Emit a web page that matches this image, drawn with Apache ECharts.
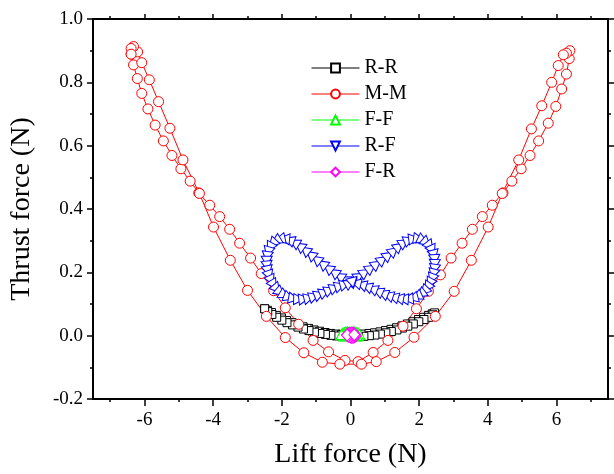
<!DOCTYPE html>
<html>
<head>
<meta charset="utf-8">
<script src="https://cdn.jsdelivr.net/npm/echarts@6/dist/echarts.min.js"></script>
<style>html,body{margin:0;padding:0;background:#fff}#c{width:614px;height:474px}</style>
</head>
<body>
<div id="c"></div>
<script>
const seriesNames = ['R-R', 'M-M', 'F-F', 'R-F', 'F-R'];
const seriesColors = ['#000000', '#ff0000', '#00ff00', '#0000ff', '#ff00ff'];
const xMajorTicks = [-6, -4, -2, 0, 2, 4, 6];
const xMinorTicks = [-7, -5, -3, -1, 1, 3, 5, 7];
const yTicks = [-0.2, 0.0, 0.2, 0.4, 0.6, 0.8, 1.0];

// R-R (lift, thrust)
const rrData = [
  [-2.50,0.085],[-2.42,0.080],[-2.30,0.073],[-2.16,0.064],[-2.01,0.056],[-1.86,0.048],[-1.70,0.041],
  [-1.54,0.034],[-1.38,0.028],[-1.22,0.023],[-1.06,0.018],[-0.90,0.014],[-0.74,0.010],[-0.58,0.007],
  [-0.42,0.005],[-0.26,0.004],[-0.10,0.003],[0.06,0.003],[0.22,0.004],[0.38,0.005],[0.54,0.007],
  [0.70,0.009],[0.86,0.012],[1.02,0.016],[1.18,0.020],[1.34,0.025],[1.50,0.031],[1.66,0.037],
  [1.82,0.044],[1.98,0.051],[2.13,0.058],[2.27,0.064],[2.38,0.069],[2.45,0.072],
  [2.40,0.066],[2.28,0.058],[2.14,0.051],[1.99,0.044],[1.83,0.037],[1.67,0.030],[1.51,0.024],
  [1.35,0.018],[1.19,0.013],[1.03,0.009],[0.87,0.005],[0.71,0.002],[0.55,0.000],[0.39,-0.002],
  [0.23,-0.003],[0.07,-0.003],[-0.09,-0.003],[-0.25,-0.002],[-0.41,-0.001],[-0.57,0.001],[-0.73,0.004],
  [-0.89,0.007],[-1.05,0.011],[-1.21,0.016],[-1.37,0.021],[-1.53,0.027],[-1.69,0.034],[-1.85,0.041],
  [-2.00,0.049],[-2.15,0.058],[-2.29,0.067],[-2.41,0.076],[-2.50,0.085]
];
// M-M
const mmData = [
  [-6.39,0.889],[-6.32,0.855],[-6.21,0.812],[-6.08,0.765],[-5.90,0.716],[-5.69,0.665],[-5.45,0.615],
  [-5.20,0.569],[-4.94,0.527],[-4.67,0.488],[-4.42,0.451],[-4.10,0.412],[-3.81,0.376],[-3.52,0.336],
  [-3.23,0.292],[-2.91,0.245],[-2.60,0.196],[-2.24,0.142],[-1.90,0.088],[-1.51,0.036],[-1.09,-0.015],
  [-0.64,-0.051],[-0.16,-0.078],
  [0.22,-0.082],[0.66,-0.053],[1.09,-0.015],[1.53,0.030],[1.92,0.085],[2.27,0.140],[2.62,0.192],
  [2.93,0.245],[3.25,0.292],[3.55,0.336],[3.84,0.376],[4.13,0.412],[4.44,0.451],[4.70,0.488],
  [4.97,0.527],[5.23,0.569],[5.48,0.615],[5.76,0.671],[5.98,0.724],[6.15,0.779],[6.29,0.826],
  [6.37,0.875],[6.39,0.900],[6.29,0.892],
  [6.20,0.887],[6.05,0.853],[5.86,0.800],[5.57,0.726],[5.27,0.653],[4.90,0.555],[4.42,0.449],
  [4.01,0.343],[3.52,0.238],[3.02,0.140],[2.47,0.061],[1.85,-0.005],[1.29,-0.053],[0.75,-0.082],
  [0.32,-0.090],
  [-0.31,-0.090],[-0.82,-0.084],[-1.36,-0.054],[-1.90,-0.006],[-2.45,0.061],[-3.00,0.143],[-3.50,0.238],
  [-3.99,0.343],[-4.40,0.449],[-4.88,0.555],[-5.26,0.655],[-5.59,0.739],[-5.86,0.808],[-6.08,0.862],
  [-6.20,0.896],[-6.32,0.913],[-6.39,0.907],[-6.39,0.889]
];
// F-F
const ffData = [
  [-0.26,0.004],[-0.22,0.008],[-0.18,0.010],[-0.13,0.012],[-0.09,0.012],[-0.04,0.011],[0.00,0.010],
  [0.04,0.011],[0.09,0.012],[0.13,0.012],[0.18,0.010],[0.22,0.008],[0.26,0.004],[0.22,0.001],
  [0.18,-0.001],[0.13,0.000],[0.09,0.001],[0.04,0.002],[0.00,0.003],[-0.04,0.002],[-0.09,0.001],
  [-0.13,0.000],[-0.18,-0.001],[-0.22,0.001],[-0.26,0.004]
];
// R-F
const rfData = [
  [0.08,0.176],[0.25,0.188],[0.42,0.200],[0.59,0.213],[0.76,0.226],[0.93,0.240],[1.10,0.254],
  [1.26,0.268],[1.41,0.282],[1.56,0.294],[1.70,0.302],[1.84,0.306],[1.98,0.306],[2.10,0.302],
  [2.21,0.294],[2.31,0.283],[2.38,0.270],[2.43,0.255],[2.45,0.240],[2.45,0.225],[2.44,0.210],
  [2.41,0.195],[2.37,0.180],[2.31,0.166],[2.24,0.153],[2.15,0.141],[2.05,0.131],[1.94,0.124],
  [1.82,0.119],[1.68,0.116],[1.54,0.116],[1.40,0.118],[1.25,0.122],[1.10,0.127],[0.95,0.133],
  [0.80,0.140],[0.64,0.148],[0.48,0.155],[0.32,0.161],[0.16,0.166],[0.00,0.170],
  [-0.16,0.178],[-0.32,0.188],[-0.48,0.200],[-0.65,0.213],[-0.82,0.227],[-0.99,0.241],[-1.16,0.256],
  [-1.32,0.270],[-1.48,0.283],[-1.63,0.294],[-1.78,0.302],[-1.92,0.306],[-2.05,0.305],[-2.17,0.300],
  [-2.27,0.291],[-2.35,0.279],[-2.40,0.265],[-2.43,0.250],[-2.44,0.235],[-2.43,0.220],[-2.41,0.205],
  [-2.37,0.190],[-2.31,0.175],[-2.24,0.161],[-2.15,0.148],[-2.05,0.137],[-1.93,0.128],[-1.80,0.121],
  [-1.66,0.117],[-1.51,0.115],[-1.36,0.116],[-1.21,0.119],[-1.06,0.124],[-0.91,0.130],[-0.76,0.137],
  [-0.61,0.144],[-0.46,0.151],[-0.31,0.157],[-0.16,0.162],[-0.02,0.166],[0.08,0.176]
];
// F-R
const frData = [
  [-0.10,0.002],[-0.08,0.004],[-0.05,0.006],[-0.02,0.007],[0.02,0.008],[0.05,0.008],[0.08,0.007],
  [0.11,0.006],[0.13,0.004],[0.15,0.000],[0.13,-0.002],[0.10,-0.004],[0.07,-0.005],[0.03,-0.005],
  [0.00,-0.004],[-0.04,-0.003],[-0.07,-0.001],[-0.10,0.002],[0.11,0.003]
];

const FONT = '"Liberation Serif", "Times New Roman", serif';
const chart = echarts.init(document.getElementById('c'), null, {renderer: 'canvas'});

function baseX(pos, ticks, len, extra) {
  return Object.assign({
    type: 'value', position: pos, min: -7.5, max: 7.5, gridIndex: 0,
    axisLine: {show: true, onZero: false, lineStyle: {color: '#000', width: 2}},
    axisTick: {show: true, inside: false, length: len, customValues: ticks, lineStyle: {color: '#000', width: 1.5}},
    axisLabel: {show: false},
    splitLine: {show: false}
  }, extra || {});
}
function baseY(pos, extra) {
  return Object.assign({
    type: 'value', position: pos, min: -0.2, max: 1.0, interval: 0.2,
    axisLine: {show: true, onZero: false, lineStyle: {color: '#000', width: 2}},
    axisTick: {show: true, inside: false, length: 6, lineStyle: {color: '#000', width: 1.5}},
    minorTick: {show: true, splitNumber: 2, length: 3, lineStyle: {color: '#000', width: 1.5}},
    axisLabel: {show: false},
    splitLine: {show: false}, minorSplitLine: {show: false}
  }, extra || {});
}

const triPath = 'path://M0,0L10,0L5,9Z';

const option = {
  animation: false,
  backgroundColor: '#fff',
  grid: {left: 93, right: 6, top: 19, bottom: 72, containLabel: false},
  legend: {
    orient: 'vertical', left: 306, top: 53, itemWidth: 48, itemHeight: 11, itemGap: 6,
    lineStyle: {width: 1},
    textStyle: {fontFamily: FONT, fontSize: 20, color: '#000', lineHeight: 20},
    data: seriesNames
  },
  xAxis: [
    baseX('bottom', xMajorTicks, 7, {
      axisLabel: {show: true, customValues: xMajorTicks, fontFamily: FONT, fontSize: 19, color: '#000', margin: 12,
        formatter: v => String(v)},
      name: 'Lift force (N)', nameLocation: 'middle', nameGap: 42,
      nameTextStyle: {fontFamily: FONT, fontSize: 28, color: '#000'}
    }),
    baseX('bottom', xMinorTicks, 3),
    baseX('top', xMajorTicks, 5),
    baseX('top', xMinorTicks, 3)
  ],
  yAxis: [
    baseY('left', {
      axisLabel: {show: true, fontFamily: FONT, fontSize: 19, color: '#000', margin: 10,
        formatter: v => v.toFixed(1)},
      name: 'Thrust force (N)', nameLocation: 'middle', nameGap: 57, nameRotate: 90,
      nameTextStyle: {fontFamily: FONT, fontSize: 28, color: '#000'}
    }),
    baseY('right')
  ],
  series: [
    {name: seriesNames[0], type: 'line', data: rrData, symbol: 'rect', symbolSize: 8,
      itemStyle: {color: '#fff', borderColor: seriesColors[0], borderWidth: 1},
      lineStyle: {color: seriesColors[0], width: 1}},
    {name: seriesNames[1], type: 'line', data: mmData, symbol: 'circle', symbolSize: 10,
      itemStyle: {color: '#fff', borderColor: seriesColors[1], borderWidth: 1},
      lineStyle: {color: seriesColors[1], width: 1}},
    {name: seriesNames[2], type: 'line', data: ffData, symbol: 'triangle', symbolSize: [11, 10],
      itemStyle: {color: '#fff', borderColor: seriesColors[2], borderWidth: 1},
      lineStyle: {color: seriesColors[2], width: 1}},
    {name: seriesNames[3], type: 'line', data: rfData, symbol: triPath, symbolSize: [11, 10],
      itemStyle: {color: '#fff', borderColor: seriesColors[3], borderWidth: 1},
      lineStyle: {color: seriesColors[3], width: 1}},
    {name: seriesNames[4], type: 'line', data: frData, symbol: 'diamond', symbolSize: [11, 12],
      itemStyle: {color: '#fff', borderColor: seriesColors[4], borderWidth: 1},
      lineStyle: {color: seriesColors[4], width: 1}}
  ]
};
option.series.forEach(s => { s.showSymbol = true; s.showAllSymbol = true; s.silent = true; });
chart.setOption(option);

// rotate R-F triangles along the direction of travel (derived from the data)
const px = rfData.map(p => chart.convertToPixel({xAxisIndex: 0, yAxisIndex: 0}, p));
const rfItems = rfData.map((p, i) => {
  const a = px[Math.max(0, i - 1)], b = px[Math.min(px.length - 1, i + 1)];
  const th = Math.atan2(-(b[1] - a[1]), b[0] - a[0]) * 180 / Math.PI;
  return {value: p, symbolRotate: th + 90};
});
chart.setOption({series: [{}, {}, {}, {data: rfItems}, {}]});
</script>
</body>
</html>
